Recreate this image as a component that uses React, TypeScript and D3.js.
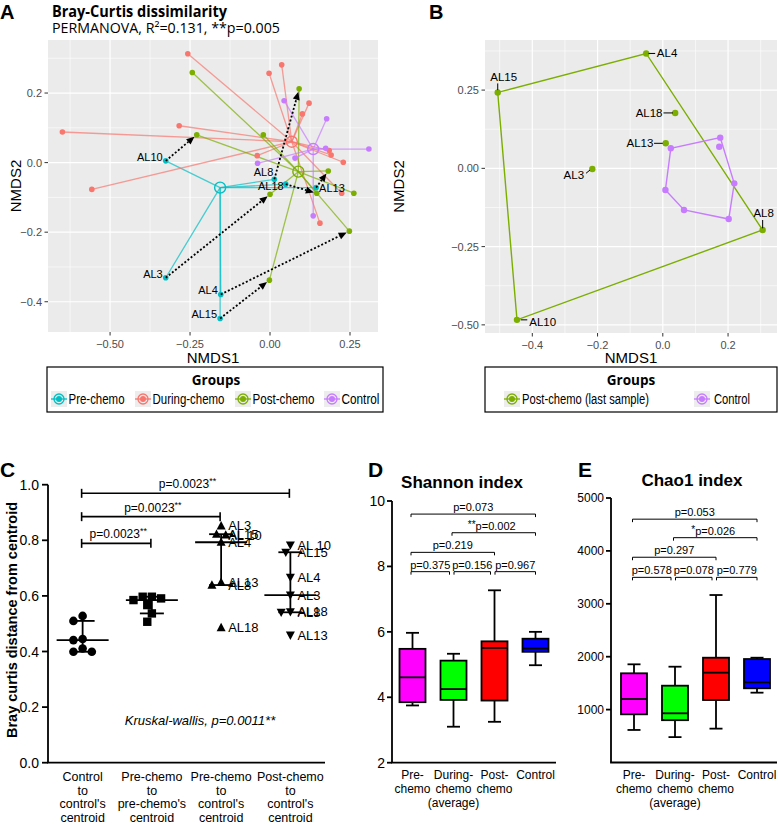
import React from 'react';
import * as d3 from 'd3';

// ---------------- Panel A data (NMDS, all samples) ----------------
const groupNames = ['Pre-chemo', 'During-chemo', 'Post-chemo', 'Control'];
const groupColors = ['#00BFC4', '#F8766D', '#7CAE00', '#C77CFF'];

const prePatients = ['AL10', 'AL3', 'AL4', 'AL15', 'AL8', 'AL18', 'AL13'];
const preX = [-0.326, -0.326, -0.154, -0.156, 0.0135, 0.049, 0.144];
const preY = [0.005, -0.331, -0.379, -0.448, -0.048, -0.062, -0.072];
// last post-chemo sample of the same patients (arrow targets)
const postLastX = [-0.229, 0.0, 0.248, -0.002, 0.091, 0.146, 0.182];
const postLastY = [0.08, -0.091, -0.197, -0.338, 0.212, -0.088, -0.024];
const postOtherX = [-0.243, -0.021, 0.262];
const postOtherY = [0.259, 0.08, -0.088];
const duringX = [-0.257, -0.284, -0.649, -0.557, -0.003, 0.0365, 0.122, 0.101, -0.04, 0.185, 0.191, 0.229, 0.224, 0.156];
const duringY = [0.313, 0.106, 0.088, -0.077, 0.257, 0.281, 0.171, 0.14, 0.02, 0.035, 0.022, 0.001, -0.088, -0.174];
const controlAX = [0.044, 0.177, 0.174, 0.309, 0.078, -0.039, 0.135];
const controlAY = [0.178, 0.126, 0.041, 0.039, 0.013, -0.002, -0.153];
const centroidX = [-0.156, 0.068, 0.0885, 0.135];
const centroidY = [-0.072, 0.06, -0.026, 0.039];
const ticksAX = [-0.5, -0.25, 0, 0.25];
const tickLabelsAX = ['\u22120.50', '\u22120.25', '0.00', '0.25'];
const minorAX = [-0.625, -0.375, -0.125, 0.125];
const ticksAY = [-0.4, -0.2, 0, 0.2];
const tickLabelsAY = ['\u22120.4', '\u22120.2', '0.0', '0.2'];
const minorAY = [-0.3, -0.1, 0.1, 0.3];

// ---------------- Panel B data ----------------
const postBIds = ['AL4', 'AL15', 'AL18', 'AL13', 'AL3', 'AL8', 'AL10'];
const postBX = [-0.051, -0.506, 0.038, 0.009, -0.216, 0.306, -0.447];
const postBY = [0.367, 0.2425, 0.177, 0.08, -0.002, -0.197, -0.484];
const controlBX = [0.0245, 0.176, 0.173, 0.219, 0.202, 0.065, 0.008];
const controlBY = [0.064, 0.098, 0.069, -0.048, -0.162, -0.133, -0.069];
const ticksBX = [-0.4, -0.2, 0, 0.2];
const tickLabelsBX = ['\u22120.4', '\u22120.2', '0.0', '0.2'];
const minorBX = [-0.5, -0.3, -0.1, 0.1, 0.3];
const ticksBY = [-0.5, -0.25, 0, 0.25];
const tickLabelsBY = ['\u22120.50', '\u22120.25', '0.00', '0.25'];
const minorBY = [-0.375, -0.125, 0.125, 0.375];

// ---------------- Panel C data ----------------
const cCategoryLines = [
  ['Control', 'to', "control's", 'centroid'],
  ['Pre-chemo', 'to', "pre-chemo's", 'centroid'],
  ['Pre-chemo', 'to', "control's", 'centroid'],
  ['Post-chemo', 'to', "control's", 'centroid'],
];
const cControl = [0.528, 0.51, 0.445, 0.441, 0.411, 0.399, 0.399];
const cPre = [0.597, 0.585, 0.567, 0.591, 0.597, 0.537, 0.507];
const cPreToCtrlIds = ['AL3', 'AL15', 'AL 10', 'AL4', 'AL13', 'AL8', 'AL18'];
const cPreToCtrl = [0.852, 0.822, 0.819, 0.793, 0.649, 0.639, 0.486];
const cPostIds = ['AL 10', 'AL15', 'AL4', 'AL3', 'AL18', 'AL8', 'AL13'];
const cPost = [0.783, 0.757, 0.667, 0.603, 0.543, 0.541, 0.459];
const cTicks = [0, 0.2, 0.4, 0.6, 0.8, 1.0];
const cBarsFrom = [0, 0, 0];
const cBarsTo = [3, 2, 1];
const cBarsY = [0.969, 0.885, 0.789];
const cBarsLabel = ['p=0.0023', 'p=0.0023', 'p=0.0023'];

// ---------------- Panel D / E data ----------------
const boxCategoryLines = [['Pre-', 'chemo'], ['During-', 'chemo', '(average)'], ['Post-', 'chemo'], ['Control']];
const boxColors = ['#FF00FF', '#00FF00', '#FF0000', '#0000FF'];
const shannonMin = [3.75, 3.1, 3.25, 4.98];
const shannonQ1 = [3.85, 3.92, 3.9, 5.39];
const shannonMed = [4.61, 4.25, 5.51, 5.49];
const shannonQ3 = [5.48, 5.12, 5.71, 5.79];
const shannonMax = [5.97, 5.33, 7.27, 6.0];
const shannonTicks = [2, 4, 6, 8, 10];
const chaoMin = [615, 480, 640, 1320];
const chaoQ1 = [911, 800, 1181, 1403];
const chaoMed = [1200, 930, 1698, 1516];
const chaoQ3 = [1686, 1452, 1981, 1956];
const chaoMax = [1856, 1811, 3166, 1981];
const chaoTicks = [1000, 2000, 3000, 4000, 5000];
const barFrom = [0, 1, 0, 0, 1, 2];
const barTo = [3, 3, 2, 1, 2, 3];
const shannonBarY = [9.6, 9.03, 8.43, 7.84, 7.84, 7.84];
const shannonStars = ['', '**', '', '', '', ''];
const shannonP = ['p=0.073', 'p=0.002', 'p=0.219', 'p=0.375', 'p=0.156', 'p=0.967'];
const chaoBarY = [4600, 4250, 3880, 3500, 3500, 3500];
const chaoStars = ['', '*', '', '', '', ''];
const chaoP = ['p=0.053', 'p=0.026', 'p=0.297', 'p=0.578', 'p=0.078', 'p=0.779'];

// ---------------- label layouts (styling only) ----------------
const labelLayoutA: Record<string, [number, number, string]> = {
  AL10: [-3, -4, 'end'], AL3: [-3, -4, 'end'], AL4: [-3, -4, 'end'], AL15: [-3, -4, 'end'],
  AL8: [-1, -7, 'end'], AL18: [-2, 2, 'end'], AL13: [3, 0, 'start'],
};
const labelLayoutB: Record<string, { t: [number, number, string]; s: [number, number, number, number] }> = {
  AL4: { t: [10.7, 0, 'start'], s: [2.3, 0, 9, 0] },
  AL15: { t: [6, -15.6, 'middle'], s: [0, -9, 0, -2.3] },
  AL18: { t: [-12.7, 0, 'end'], s: [-11.7, 0, -2.3, 0] },
  AL13: { t: [-12.4, 0, 'end'], s: [-11.7, 0, -3, 0] },
  AL3: { t: [-8.3, 6, 'end'], s: [-6.3, 4.3, -2.3, 1] },
  AL8: { t: [1, -16.7, 'middle'], s: [0, -10, 0, -1.7] },
  AL10: { t: [12.3, 1.7, 'start'], s: [3.7, 0, 10.3, 0] },
};
// legend layout: key x, text width (condensed font look)
const legendKeyXA = [59, 143, 243, 332];
const legendTextWA = [56, 72, 62, 38];

const SANS = "'Liberation Sans', Arial, Helvetica, sans-serif";
const TITLE = "'Open Sans', Lato, sans-serif";

function quartiles(vals: number[]) {
  const s = [...vals].sort((a, b) => a - b);
  const n = s.length;
  const q = (p: number) => {
    const pos = (n + 1) * p - 1;
    const lo = Math.max(0, Math.min(n - 1, Math.floor(pos)));
    const hi = Math.max(0, Math.min(n - 1, Math.ceil(pos)));
    return s[lo] + (s[hi] - s[lo]) * (pos - Math.floor(pos));
  };
  return [q(0.25), q(0.5), q(0.75)];
}

function swarm(values: number[], ys: (v: number) => number, diam: number, step: number) {
  const placed: { x: number; y: number }[] = [];
  const order = values.map((_, i) => i).sort((a, b) => values[b] - values[a]);
  const off = new Array(values.length).fill(0);
  for (const i of order) {
    const py = ys(values[i]);
    for (let k = 0; k < 30; k++) {
      const cand = k === 0 ? 0 : (k % 2 === 1 ? -1 : 1) * Math.ceil(k / 2) * step;
      if (placed.every((p) => Math.hypot(p.x - cand, p.y - py) >= diam)) {
        off[i] = cand;
        placed.push({ x: cand, y: py });
        break;
      }
    }
  }
  return off;
}

function LegendKey({ x, y, color }: { x: number; y: number; color: string }) {
  return (
    <g transform={`translate(${x},${y})`}>
      <rect x={-8} y={-8} width={16} height={16} fill="#EDEDED" />
      <line x1={-8} x2={8} y1={0} y2={0} stroke={color} strokeWidth={1.3} />
      <circle r={5} fill="none" stroke={color} strokeWidth={1.3} />
      <circle r={3} fill={color} />
    </g>
  );
}

function LegendText({ x, y, w, children }: { x: number; y: number; w: number; children: string }) {
  return (
    <text x={x} y={y} dominantBaseline="central" fontFamily={SANS} fontSize={14} fill="#000"
      textLength={w} lengthAdjust="spacingAndGlyphs">{children}</text>
  );
}

function PanelA() {
  const x = d3.scaleLinear().domain([-0.694, 0.3375]).range([48, 378]);
  const y = d3.scaleLinear().domain([-0.487, 0.3525]).range([332, 40]);
  const groups = [
    { xs: preX, ys: preY },
    { xs: duringX, ys: duringY },
    { xs: [...postLastX, ...postOtherX], ys: [...postLastY, ...postOtherY] },
    { xs: controlAX, ys: controlAY },
  ];
  const [x0, x1] = x.range();
  const [y1, y0] = y.range();
  return (
    <g>
      <rect x={x0} y={y0} width={x1 - x0} height={y1 - y0} fill="#EBEBEB" />
      {minorAX.map((t) => <line key={'mx' + t} x1={x(t)} x2={x(t)} y1={y0} y2={y1} stroke="#fff" strokeWidth={0.6} />)}
      {minorAY.map((t) => <line key={'my' + t} y1={y(t)} y2={y(t)} x1={x0} x2={x1} stroke="#fff" strokeWidth={0.6} />)}
      {ticksAX.map((t) => <line key={'gx' + t} x1={x(t)} x2={x(t)} y1={y0} y2={y1} stroke="#fff" strokeWidth={1.2} />)}
      {ticksAY.map((t) => <line key={'gy' + t} y1={y(t)} y2={y(t)} x1={x0} x2={x1} stroke="#fff" strokeWidth={1.2} />)}
      {groups.map((g, gi) =>
        g.xs.map((px, i) => (
          <line key={`s${gi}-${i}`} x1={x(centroidX[gi])} y1={y(centroidY[gi])} x2={x(px)} y2={y(g.ys[i])}
            stroke={groupColors[gi]} strokeWidth={1.3} strokeOpacity={0.7} />
        ))
      )}
      {groups.map((g, gi) =>
        g.xs.map((px, i) => <circle key={`p${gi}-${i}`} cx={x(px)} cy={y(g.ys[i])} r={2.8} fill={groupColors[gi]} />)
      )}
      {centroidX.map((cx, gi) => (
        <circle key={'c' + gi} cx={x(cx)} cy={y(centroidY[gi])} r={5.5} fill="none" stroke={groupColors[gi]} strokeWidth={1.4} />
      ))}
      {prePatients.map((id, i) => {
        const ax = x(preX[i]), ay = y(preY[i]);
        const bx = x(postLastX[i]), by = y(postLastY[i]);
        const len = Math.hypot(bx - ax, by - ay);
        const ux = (bx - ax) / len, uy = (by - ay) / len;
        const ex = bx - ux * 3, ey = by - uy * 3;
        const hx = ex - ux * 8, hy = ey - uy * 8;
        const px = -uy * 3.5, py = ux * 3.5;
        return (
          <g key={'ar' + id}>
            <line x1={ax} y1={ay} x2={hx} y2={hy} stroke="#000" strokeWidth={1.8} strokeDasharray="2,2" />
            <path d={`M${ex},${ey}L${hx + px},${hy + py}L${hx - px},${hy - py}Z`} fill="#000" />
          </g>
        );
      })}
      {prePatients.map((id, i) => {
        const [dx, dy, anchor] = labelLayoutA[id];
        return (
          <text key={'l' + id} x={x(preX[i]) + dx} y={y(preY[i]) + dy} textAnchor={anchor as any} dominantBaseline="central"
            fontFamily={SANS} fontSize={11} fill="#000">{id}</text>
        );
      })}
      {ticksAX.map((t, i) => (
        <g key={'tx' + t}>
          <line x1={x(t)} x2={x(t)} y1={y1} y2={y1 + 3.5} stroke="#333" strokeWidth={1} />
          <text x={x(t)} y={y1 + 12} textAnchor="middle" dominantBaseline="central" fontFamily={SANS} fontSize={11} fill="#4D4D4D">{tickLabelsAX[i]}</text>
        </g>
      ))}
      {ticksAY.map((t, i) => (
        <g key={'ty' + t}>
          <line x1={x0 - 3.5} x2={x0} y1={y(t)} y2={y(t)} stroke="#333" strokeWidth={1} />
          <text x={x0 - 6} y={y(t)} textAnchor="end" dominantBaseline="central" fontFamily={SANS} fontSize={11} fill="#4D4D4D">{tickLabelsAY[i]}</text>
        </g>
      ))}
      <text x={(x0 + x1) / 2} y={357} textAnchor="middle" dominantBaseline="central" fontFamily={SANS} fontSize={15} fill="#000">NMDS1</text>
      <text transform={`translate(15,${(y0 + y1) / 2}) rotate(-90)`} textAnchor="middle" dominantBaseline="central" fontFamily={SANS} fontSize={15} fill="#000">NMDS2</text>
      <text x={0} y={19} fontFamily={SANS} fontWeight="bold" fontSize={20} fill="#000">A</text>
      <text x={52} y={17} fontFamily={TITLE} fontWeight="bold" fontSize={15.5} fill="#000" textLength={175} lengthAdjust="spacingAndGlyphs">Bray-Curtis dissimilarity</text>
      <text x={52} y={33} fontFamily={TITLE} fontSize={14} fill="#000" textLength={228} lengthAdjust="spacingAndGlyphs">PERMANOVA, R²=0.131, **p=0.005</text>
      {/* legend */}
      <rect x={47} y={367} width={336} height={45} fill="#fff" stroke="#000" strokeWidth={1.2} />
      <text x={216} y={380} textAnchor="middle" dominantBaseline="central" fontFamily={TITLE} fontWeight="bold" fontSize={13.5}>Groups</text>
      {groupNames.map((g, i) => (
        <g key={'lg' + g}>
          <LegendKey x={legendKeyXA[i]} y={399} color={groupColors[i]} />
          <LegendText x={legendKeyXA[i] + 9.5} y={399} w={legendTextWA[i]}>{g}</LegendText>
        </g>
      ))}
    </g>
  );
}

function PanelB() {
  const x = d3.scaleLinear().domain([-0.545, 0.35]).range([485, 777]);
  const y = d3.scaleLinear().domain([-0.526, 0.41]).range([333, 40]);
  const [x0, x1] = x.range();
  const [y1, y0] = y.range();
  const postPts = postBX.map((v, i) => [x(v), y(postBY[i])] as [number, number]);
  const ctrlPts = controlBX.map((v, i) => [x(v), y(controlBY[i])] as [number, number]);
  const hullPost = d3.polygonHull(postPts) || [];
  const hullCtrl = d3.polygonHull(ctrlPts) || [];
  const green = groupColors[2];
  const purple = groupColors[3];
  return (
    <g>
      <rect x={x0} y={y0} width={x1 - x0} height={y1 - y0} fill="#EBEBEB" />
      {minorBX.map((t) => <line key={'mx' + t} x1={x(t)} x2={x(t)} y1={y0} y2={y1} stroke="#fff" strokeWidth={0.6} />)}
      {minorBY.map((t) => <line key={'my' + t} y1={y(t)} y2={y(t)} x1={x0} x2={x1} stroke="#fff" strokeWidth={0.6} />)}
      {ticksBX.map((t) => <line key={'gx' + t} x1={x(t)} x2={x(t)} y1={y0} y2={y1} stroke="#fff" strokeWidth={1.2} />)}
      {ticksBY.map((t) => <line key={'gy' + t} y1={y(t)} y2={y(t)} x1={x0} x2={x1} stroke="#fff" strokeWidth={1.2} />)}
      <path d={'M' + hullPost.map((p) => p.join(',')).join('L') + 'Z'} fill="none" stroke={green} strokeWidth={1.4} />
      <path d={'M' + hullCtrl.map((p) => p.join(',')).join('L') + 'Z'} fill="none" stroke={purple} strokeWidth={1.4} />
      {ctrlPts.map((p, i) => <circle key={'c' + i} cx={p[0]} cy={p[1]} r={3.2} fill={purple} />)}
      {postPts.map((p, i) => <circle key={'p' + i} cx={p[0]} cy={p[1]} r={3.2} fill={green} />)}
      {postBIds.map((id, i) => {
        const L = labelLayoutB[id];
        const [px, py] = postPts[i];
        return (
          <g key={'lb' + id}>
            <line x1={px + L.s[0]} y1={py + L.s[1]} x2={px + L.s[2]} y2={py + L.s[3]} stroke="#000" strokeWidth={1} />
            <text x={px + L.t[0]} y={py + L.t[1]} textAnchor={L.t[2] as any} dominantBaseline="central" fontFamily={SANS} fontSize={11.5} fill="#000">{id}</text>
          </g>
        );
      })}
      {ticksBX.map((t, i) => (
        <g key={'tx' + t}>
          <line x1={x(t)} x2={x(t)} y1={y1} y2={y1 + 3.5} stroke="#333" strokeWidth={1} />
          <text x={x(t)} y={y1 + 12} textAnchor="middle" dominantBaseline="central" fontFamily={SANS} fontSize={11} fill="#4D4D4D">{tickLabelsBX[i]}</text>
        </g>
      ))}
      {ticksBY.map((t, i) => (
        <g key={'ty' + t}>
          <line x1={x0 - 3.5} x2={x0} y1={y(t)} y2={y(t)} stroke="#333" strokeWidth={1} />
          <text x={x0 - 6} y={y(t)} textAnchor="end" dominantBaseline="central" fontFamily={SANS} fontSize={11} fill="#4D4D4D">{tickLabelsBY[i]}</text>
        </g>
      ))}
      <text x={(x0 + x1) / 2} y={357} textAnchor="middle" dominantBaseline="central" fontFamily={SANS} fontSize={15} fill="#000">NMDS1</text>
      <text transform={`translate(398,${(y0 + y1) / 2}) rotate(-90)`} textAnchor="middle" dominantBaseline="central" fontFamily={SANS} fontSize={15} fill="#000">NMDS2</text>
      <text x={429} y={19} fontFamily={SANS} fontWeight="bold" fontSize={20} fill="#000">B</text>
      <rect x={485} y={367} width={292} height={45} fill="#fff" stroke="#000" strokeWidth={1.2} />
      <text x={631} y={380} textAnchor="middle" dominantBaseline="central" fontFamily={TITLE} fontWeight="bold" fontSize={13.5}>Groups</text>
      <LegendKey x={512} y={399} color={green} />
      <LegendText x={522} y={399} w={127}>Post-chemo (last sample)</LegendText>
      <LegendKey x={702} y={399} color={purple} />
      <LegendText x={714} y={399} w={36}>Control</LegendText>
    </g>
  );
}

function Marker({ kind, x, y }: { kind: number; x: number; y: number }) {
  if (kind === 0) return <circle cx={x} cy={y} r={4.3} fill="#000" />;
  if (kind === 1) return <rect x={x - 4.2} y={y - 4.2} width={8.4} height={8.4} fill="#000" />;
  if (kind === 2) return <path d={`M${x},${y - 4.8}L${x + 4.5},${y + 3.6}L${x - 4.5},${y + 3.6}Z`} fill="#000" />;
  return <path d={`M${x},${y + 4.8}L${x + 4.5},${y - 3.6}L${x - 4.5},${y - 3.6}Z`} fill="#000" />;
}

function PanelC() {
  const y = d3.scaleLinear().domain([0, 1]).range([762.7, 484.7]);
  const x = d3.scaleBand<number>().domain([0, 1, 2, 3]).range([48, 325]);
  const cx = (i: number) => (x(i) as number) + x.bandwidth() / 2;
  const series = [cControl, cPre, cPreToCtrl, cPost];
  const ids = [null, null, cPreToCtrlIds, cPostIds];
  return (
    <g fontFamily={SANS}>
      <text x={0} y={477} fontWeight="bold" fontSize={21} fill="#000">C</text>
      <line x1={48} x2={48} y1={y(1)} y2={y(0)} stroke="#000" strokeWidth={1.8} />
      <line x1={47.1} x2={325} y1={y(0)} y2={y(0)} stroke="#000" strokeWidth={1.8} />
      {cTicks.map((t) => (
        <g key={'t' + t}>
          <line x1={42} x2={48} y1={y(t)} y2={y(t)} stroke="#000" strokeWidth={1.8} />
          <text x={39} y={y(t)} textAnchor="end" dominantBaseline="central" fontSize={14} fill="#000">{t.toFixed(1)}</text>
        </g>
      ))}
      <text transform={`translate(12,${620}) rotate(-90)`} textAnchor="middle" dominantBaseline="central" fontWeight="bold" fontSize={14.5} fill="#000">Bray curtis  distance from centroid</text>
      {cCategoryLines.map((lines, i) => (
        <g key={'cat' + i}>
          {lines.map((l, k) => (
            <text key={k} x={cx(i)} y={777 + k * 13.5} textAnchor="middle" dominantBaseline="central" fontSize={12.5} fill="#000">{l}</text>
          ))}
        </g>
      ))}
      {series.map((vals, si) => {
        const off = swarm(vals, y, 8.5, 4.6);
        const [q1, med, q3] = quartiles(vals);
        const c = cx(si);
        return (
          <g key={'s' + si}>
            {vals.map((v, i) => <Marker key={i} kind={si} x={c + off[i]} y={y(v)} />)}
            <line x1={c} x2={c} y1={y(q1)} y2={y(q3)} stroke="#000" strokeWidth={1.8} />
            <line x1={c - 26} x2={c + 26} y1={y(med)} y2={y(med)} stroke="#000" strokeWidth={1.8} />
            <line x1={c - 12} x2={c + 12} y1={y(q1)} y2={y(q1)} stroke="#000" strokeWidth={1.8} />
            <line x1={c - 12} x2={c + 12} y1={y(q3)} y2={y(q3)} stroke="#000" strokeWidth={1.8} />
            {ids[si] && (ids[si] as string[]).map((id, i) => (
              <text key={'l' + i} x={c + 7} y={y(vals[i])} dominantBaseline="central" fontSize={13} fill="#000">{id}</text>
            ))}
          </g>
        );
      })}
      {cBarsY.map((by, i) => {
        const a = cx(cBarsFrom[i]) - 1, b = cx(cBarsTo[i]) - 1;
        return (
          <g key={'b' + i}>
            <line x1={a} x2={b} y1={y(by)} y2={y(by)} stroke="#000" strokeWidth={1.6} />
            <line x1={a} x2={a} y1={y(by) - 4.5} y2={y(by) + 4.5} stroke="#000" strokeWidth={1.6} />
            <line x1={b} x2={b} y1={y(by) - 4.5} y2={y(by) + 4.5} stroke="#000" strokeWidth={1.6} />
            <text x={(a + b) / 2 + 2} y={y(by) - 5} textAnchor="middle" fontSize={12} fill="#000">
              {cBarsLabel[i]}<tspan fontSize={9} dy={-4}>**</tspan>
            </text>
          </g>
        );
      })}
      <text x={200} y={720} textAnchor="middle" dominantBaseline="central" fontStyle="italic" fontSize={13} fill="#000">Kruskal-wallis, p=0.0011**</text>
    </g>
  );
}

function BoxPanel(props: {
  letter: string; letterX: number; title: string; titleX: number; titleY: number;
  axisX: number; range: [number, number]; domain: [number, number]; yRange: [number, number];
  ticks: number[]; tickFont: number; min: number[]; q1: number[]; med: number[]; q3: number[]; max: number[];
  barY: number[]; stars: string[]; pvals: string[]; xEnd: number;
}) {
  const p = props;
  const y = d3.scaleLinear().domain(p.domain).range(p.yRange);
  const x = d3.scaleBand<number>().domain([0, 1, 2, 3]).range(p.range);
  const cx = (i: number) => (x(i) as number) + x.bandwidth() / 2;
  const bw = 26, cw = 13;
  return (
    <g fontFamily={SANS}>
      <text x={p.letterX} y={477} fontWeight="bold" fontSize={21} fill="#000">{p.letter}</text>
      <text x={p.titleX} y={p.titleY} textAnchor="middle" fontWeight="bold" fontSize={17} fill="#000">{p.title}</text>
      <line x1={p.axisX} x2={p.axisX} y1={y(p.domain[1])} y2={y(p.domain[0])} stroke="#000" strokeWidth={1.8} />
      <line x1={p.axisX - 0.9} x2={p.xEnd} y1={y(p.domain[0])} y2={y(p.domain[0])} stroke="#000" strokeWidth={1.8} />
      {p.ticks.map((t) => (
        <g key={'t' + t}>
          <line x1={p.axisX - 5} x2={p.axisX} y1={y(t)} y2={y(t)} stroke="#000" strokeWidth={1.8} />
          <text x={p.axisX - 7} y={y(t)} textAnchor="end" dominantBaseline="central" fontSize={p.tickFont} fill="#000">{t}</text>
        </g>
      ))}
      {boxCategoryLines.map((lines, i) => (
        <g key={'cat' + i}>
          {lines.map((l, k) => (
            <text key={k} x={cx(i)} y={775 + k * 14} textAnchor="middle" dominantBaseline="central" fontSize={12} fill="#000">{l}</text>
          ))}
        </g>
      ))}
      {p.med.map((m, i) => {
        const c = cx(i);
        return (
          <g key={'bx' + i} stroke="#000" strokeWidth={1.8}>
            <line x1={c} x2={c} y1={y(p.max[i])} y2={y(p.q3[i])} />
            <line x1={c} x2={c} y1={y(p.q1[i])} y2={y(p.min[i])} />
            <line x1={c - cw / 2} x2={c + cw / 2} y1={y(p.max[i])} y2={y(p.max[i])} />
            <line x1={c - cw / 2} x2={c + cw / 2} y1={y(p.min[i])} y2={y(p.min[i])} />
            <rect x={c - bw / 2} y={y(p.q3[i])} width={bw} height={y(p.q1[i]) - y(p.q3[i])} fill={boxColors[i]} />
            <line x1={c - bw / 2} x2={c + bw / 2} y1={y(m)} y2={y(m)} />
          </g>
        );
      })}
      {p.barY.map((by, i) => {
        const adjacent = barTo[i] - barFrom[i] === 1;
        const a = cx(barFrom[i]) - 1.5 + (adjacent && barFrom[i] > 0 ? 2 : 0);
        const b = cx(barTo[i]) + (adjacent && barTo[i] < 3 ? -4 : 0);
        const yy = y(by);
        return (
          <g key={'sb' + i}>
            <line x1={a} x2={b} y1={yy} y2={yy} stroke="#000" strokeWidth={1} />
            <line x1={a} x2={a} y1={yy} y2={yy + 3} stroke="#000" strokeWidth={1} />
            <line x1={b} x2={b} y1={yy} y2={yy + 3} stroke="#000" strokeWidth={1} />
            <text x={(a + b) / 2 + (p.stars[i] ? -2 : 0)} y={yy - 3} textAnchor="middle" fontSize={11} fill="#000">
              {p.stars[i] && <tspan fontSize={10} dy={-2}>{p.stars[i]}</tspan>}
              <tspan dy={p.stars[i] ? 2 : 0}>{p.pvals[i]}</tspan>
            </text>
          </g>
        );
      })}
    </g>
  );
}

export default function App() {
  return (
    <svg width={778} height={824} style={{ position: 'absolute', left: 0, top: 0, background: '#fff' }}>
      <rect width={778} height={824} fill="#fff" />
      <PanelA />
      <PanelB />
      <PanelC />
      <BoxPanel letter="D" letterX={368} title="Shannon index" titleX={462} titleY={488}
        axisX={392} range={[392, 556]} domain={[2, 10]} yRange={[762.7, 501]} ticks={shannonTicks} tickFont={14}
        min={shannonMin} q1={shannonQ1} med={shannonMed} q3={shannonQ3} max={shannonMax}
        barY={shannonBarY} stars={shannonStars} pvals={shannonP} xEnd={556} />
      <BoxPanel letter="E" letterX={578} title="Chao1 index" titleX={692} titleY={486}
        axisX={611} range={[613.5, 777.5]} domain={[0, 5000]} yRange={[762.5, 498]} ticks={chaoTicks} tickFont={12}
        min={chaoMin} q1={chaoQ1} med={chaoMed} q3={chaoQ3} max={chaoMax}
        barY={chaoBarY} stars={chaoStars} pvals={chaoP} xEnd={777} />
    </svg>
  );
}
